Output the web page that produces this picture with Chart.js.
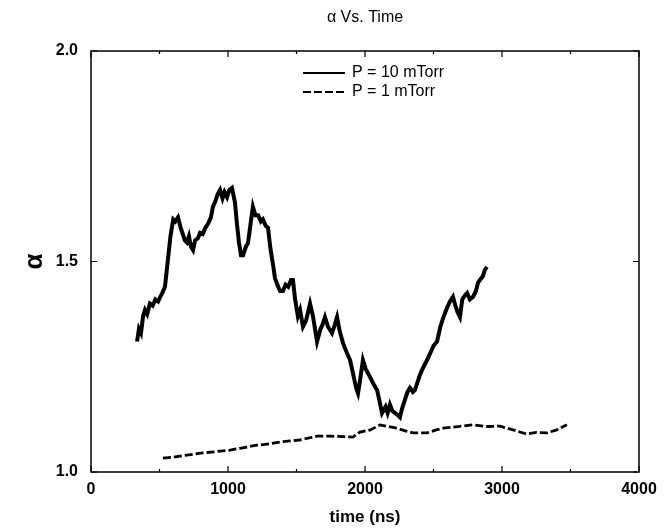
<!DOCTYPE html>
<html>
<head>
<meta charset="utf-8">
<script src="https://cdn.jsdelivr.net/npm/chart.js@4"></script>
<style>
  html, body { margin: 0; padding: 0; background: #fff; }
  #wrap { width: 665px; height: 531px; }
</style>
</head>
<body>
<div id="wrap"><canvas id="myChart" width="665" height="531"></canvas></div>
<script>
// P = 10 mTorr (solid)
const t10 = [336, 350, 365, 380, 394, 410, 430, 450, 470, 490, 504, 520, 540, 560, 580, 600, 615, 635, 655, 670,
    685, 700, 715, 730, 745, 760, 780, 796, 815, 835, 855, 875, 890, 910, 925, 942, 960, 975, 993, 1010,
    1029, 1051, 1065, 1080, 1095, 1110, 1130, 1146, 1165, 1182, 1200, 1220, 1240, 1255, 1275, 1292, 1310, 1330, 1343, 1360,
    1380, 1401, 1420, 1440, 1460, 1474, 1490, 1510, 1526, 1547, 1570, 1599, 1620, 1650, 1675, 1690, 1708, 1730, 1759, 1780,
    1796, 1815, 1840, 1865, 1891, 1915, 1935, 1949, 1965, 1985, 2005, 2036, 2060, 2088, 2105, 2124, 2150, 2165, 2182, 2200,
    2220, 2240, 2255, 2270, 2290, 2310, 2328, 2350, 2365, 2380, 2400, 2420, 2453, 2480, 2500, 2526, 2550, 2575, 2599, 2620,
    2642, 2660, 2675, 2693, 2710, 2730, 2745, 2765, 2788, 2810, 2825, 2839, 2860, 2875, 2890];
const a10 = [1.31, 1.34, 1.33, 1.37, 1.385, 1.375, 1.40, 1.395, 1.41, 1.405, 1.415, 1.425, 1.44, 1.50, 1.56, 1.60, 1.595, 1.605, 1.58, 1.565,
    1.55, 1.545, 1.56, 1.535, 1.527, 1.55, 1.555, 1.568, 1.565, 1.58, 1.59, 1.605, 1.63, 1.645, 1.66, 1.67, 1.65, 1.665, 1.653, 1.67,
    1.675, 1.64, 1.59, 1.545, 1.515, 1.515, 1.535, 1.544, 1.59, 1.63, 1.61, 1.61, 1.595, 1.60, 1.585, 1.58, 1.53, 1.49, 1.46, 1.445,
    1.43, 1.43, 1.445, 1.44, 1.456, 1.456, 1.41, 1.37, 1.385, 1.345, 1.36, 1.40, 1.37, 1.31, 1.34, 1.35, 1.368, 1.345, 1.33, 1.35,
    1.368, 1.335, 1.306, 1.285, 1.266, 1.23, 1.20, 1.187, 1.22, 1.266, 1.245, 1.226, 1.21, 1.195, 1.17, 1.14, 1.155, 1.14, 1.16, 1.145,
    1.14, 1.135, 1.13, 1.15, 1.17, 1.19, 1.20, 1.19, 1.195, 1.21, 1.23, 1.245, 1.266, 1.285, 1.30, 1.31, 1.345, 1.37, 1.39, 1.405,
    1.416, 1.395, 1.38, 1.368, 1.41, 1.42, 1.425, 1.41, 1.416, 1.43, 1.45, 1.456, 1.465, 1.48, 1.487];

// P = 1 mTorr (dashed)
const t1 = [525, 600, 700, 800, 900, 1015, 1100, 1200, 1300, 1400, 1525, 1650, 1750, 1850, 1912, 1963, 2040, 2109, 2170, 2233,
    2300, 2350, 2453, 2520, 2569, 2680, 2788, 2880, 2985, 3080, 3182, 3250, 3328, 3400, 3474];
const a1 = [1.033, 1.035, 1.04, 1.045, 1.048, 1.052, 1.057, 1.063, 1.067, 1.072, 1.076, 1.085, 1.085, 1.084, 1.083, 1.095, 1.10, 1.112, 1.108, 1.104,
    1.097, 1.093, 1.093, 1.10, 1.104, 1.108, 1.112, 1.108, 1.109, 1.10, 1.09, 1.094, 1.093, 1.10, 1.112];

const xTicks = [0, 1000, 2000, 3000, 4000];
const yTicks = [1.0, 1.5, 2.0];
const seriesNames = ['P = 10 mTorr', 'P = 1 mTorr'];
const chartTitle = '\u03b1 Vs. Time';

function toPoints(xs, ys) {
    let pts = [];
    for (let i = 0; i < xs.length; i++) pts.push({ x: xs[i], y: ys[i] });
    return pts;
}

// title over the plot, frame, inward ticks and the in-plot legend
const framePlugin = {
    id: 'frame',
    afterDraw(chart) {
        const ctx = chart.ctx;
        const a = chart.chartArea;
        const xs = chart.scales.x, ys = chart.scales.y;
        ctx.save();
        ctx.fillStyle = '#000';
        ctx.font = '16px "Liberation Sans", Arial, sans-serif';
        ctx.textAlign = 'center';
        ctx.textBaseline = 'middle';
        ctx.fillText(chartTitle, (a.left + a.right) / 2, 18);

        ctx.strokeStyle = '#000';
        ctx.lineWidth = 1.5;
        ctx.strokeRect(a.left, a.top, a.right - a.left, a.bottom - a.top);
        ctx.lineWidth = 1.2;
        ctx.beginPath();
        for (let v = 0; v <= 4000; v += 500) {
            let px = xs.getPixelForValue(v);
            let len = v % 1000 === 0 ? 6 : 3;
            ctx.moveTo(px, a.bottom); ctx.lineTo(px, a.bottom - len);
            ctx.moveTo(px, a.top); ctx.lineTo(px, a.top + len);
        }
        yTicks.forEach(v => {
            let py = ys.getPixelForValue(v);
            ctx.moveTo(a.left, py); ctx.lineTo(a.left + 6, py);
            ctx.moveTo(a.right, py); ctx.lineTo(a.right - 6, py);
        });
        ctx.stroke();

        // legend
        ctx.textAlign = 'left';
        const lx = 303, lw = 42;
        const rows = [73, 92];
        chart.data.datasets.forEach((ds, i) => {
            ctx.lineWidth = 1.8;
            ctx.setLineDash(ds.borderDash || []);
            ctx.beginPath();
            ctx.moveTo(lx, rows[i]);
            ctx.lineTo(lx + lw, rows[i]);
            ctx.stroke();
            ctx.setLineDash([]);
            ctx.fillText(ds.label, lx + lw + 7, rows[i]);
        });
        ctx.restore();
    }
};

const ctx = document.getElementById('myChart');

new Chart(ctx, {
    type: 'line',
    data: {
        datasets: [{
            label: seriesNames[0],
            data: toPoints(t10, a10),
            borderColor: '#000',
            borderWidth: 4,
            pointRadius: 0,
            tension: 0
        },
        {
            label: seriesNames[1],
            data: toPoints(t1, a1),
            borderColor: '#000',
            borderWidth: 2.8,
            borderDash: [8, 3],
            pointRadius: 0,
            tension: 0
        }]
    },
    options: {
        responsive: false,
        animation: false,
        layout: { padding: { top: 51, right: 26, bottom: 0, left: 0 } },
        plugins: {
            legend: { display: false },
            tooltip: { enabled: false },
            title: { display: false }
        },
        scales: {
            x: {
                type: 'linear',
                min: 0,
                max: 4000,
                afterFit: s => { s.height = 59; },
                afterBuildTicks: s => { s.ticks = xTicks.map(v => ({ value: v })); },
                grid: { display: false, drawTicks: false },
                border: { display: false },
                ticks: {
                    padding: 8,
                    color: '#000',
                    maxRotation: 0,
                    font: { family: '"Liberation Sans", Arial, sans-serif', size: 16, weight: 'bold' },
                    callback: v => String(v)
                },
                title: {
                    display: true,
                    text: 'time (ns)',
                    color: '#000',
                    font: { family: '"Liberation Sans", Arial, sans-serif', size: 17, weight: 'bold' },
                    padding: { top: 0, bottom: 3 }
                }
            },
            y: {
                type: 'linear',
                min: 1.0,
                max: 2.0,
                afterFit: s => { s.width = 91; },
                afterBuildTicks: s => { s.ticks = yTicks.map(v => ({ value: v })); },
                grid: { display: false, drawTicks: false },
                border: { display: false },
                ticks: {
                    padding: 13,
                    color: '#000',
                    font: { family: '"Liberation Sans", Arial, sans-serif', size: 16, weight: 'bold' },
                    callback: v => Number(v).toFixed(1)
                },
                title: {
                    display: true,
                    text: '\u03b1',
                    color: '#000',
                    font: { family: '"Liberation Sans", Arial, sans-serif', size: 26, weight: 'bold' },
                    padding: { top: 19, bottom: 0 }
                }
            }
        }
    },
    plugins: [framePlugin]
});
</script>
</body>
</html>
